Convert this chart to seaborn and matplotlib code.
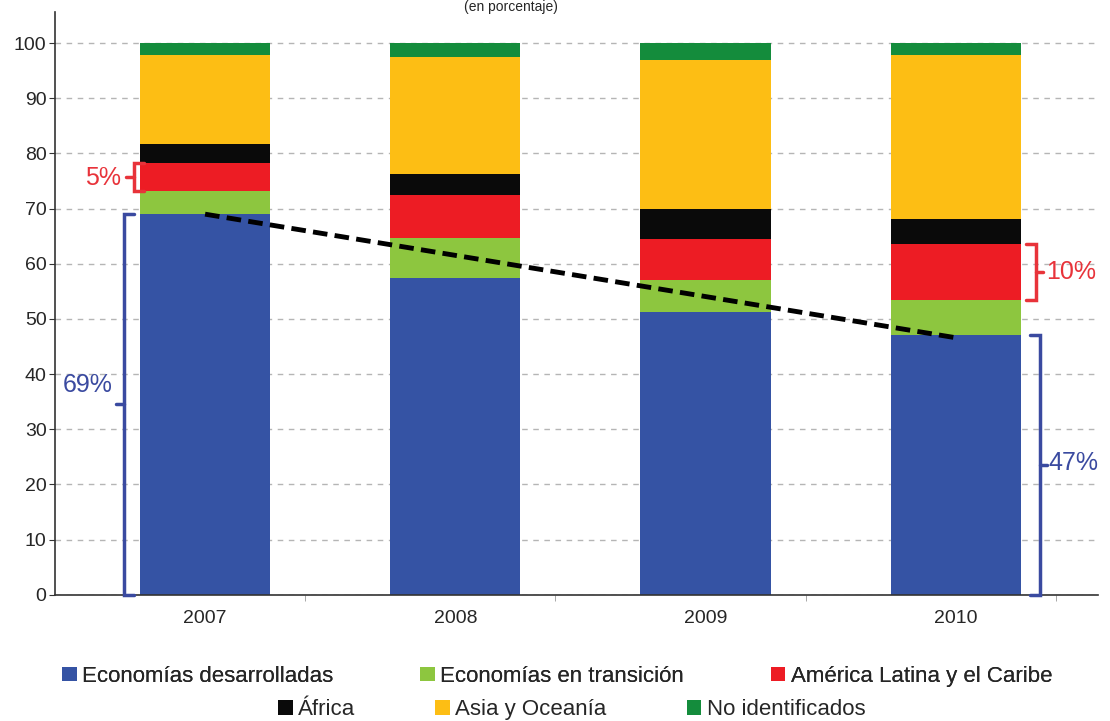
import numpy as np
import pandas as pd
import seaborn as sns
import matplotlib.pyplot as plt
from matplotlib.patches import Patch

# data (percent of total)
years = ['2007', '2008', '2009', '2010']
desarrolladas = [69.0, 57.4, 51.3, 47.1]
transicion = [4.2, 7.3, 5.8, 6.3]
america_latina = [5.1, 7.8, 7.4, 10.2]
africa = [3.4, 3.8, 5.4, 4.5]
asia_oceania = [16.1, 21.2, 27.0, 29.7]
no_identificados = [2.2, 2.5, 3.1, 2.2]

labels = ['Economías desarrolladas', 'Economías en transición', 'América Latina y el Caribe',
          'África', 'Asia y Oceanía', 'No identificados']
colors = ['#3553A4', '#8DC63F', '#ED1C24', '#0A0A0A', '#FDBE14', '#148C3C']

sns.set_style('white')
plt.rcParams['font.family'] = ['Liberation Sans', 'DejaVu Sans']

series = [desarrolladas, transicion, america_latina, africa, asia_oceania, no_identificados]
cum = np.cumsum(np.array(series), axis=0)

fig = plt.figure(figsize=(11.1, 7.21), dpi=100)
ax = fig.add_axes([0.0495, 0.175, 0.94, 0.808])

# stacked bars: draw cumulative totals from top layer down
for i in range(len(series) - 1, -1, -1):
    df = pd.DataFrame({'year': years, 'value': cum[i]})
    sns.barplot(data=df, x='year', y='value', color=colors[i], width=0.52,
                saturation=1, linewidth=0, ax=ax, zorder=2)

# trend line for developed economies
ax.plot([0, 3], [desarrolladas[0], desarrolladas[3] - 0.5], color='black', lw=3.5,
        ls=(0, (3, 1.5)), zorder=4)

ax.set_ylim(0, 105.6)
ax.set_xlim(-0.6, 3.57)
ax.set_yticks(range(0, 101, 10))
ax.set_xticks([0.4, 1.4, 2.4, 3.4], minor=True)
ax.yaxis.grid(True, ls=(0, (4, 4)), color='#b5b5b5', lw=1)
ax.set_axisbelow(True)
ax.set_xlabel('')
ax.set_ylabel('')
for s in ['top', 'right']:
    ax.spines[s].set_visible(False)
ax.spines['left'].set_color('#333333')
ax.spines['bottom'].set_color('#333333')
ax.spines['left'].set_linewidth(1.2)
ax.spines['bottom'].set_linewidth(1.2)
ax.tick_params(axis='y', length=4, labelsize=14, color='#333333', pad=2, left=True)
ax.tick_params(axis='x', which='major', length=0, labelsize=14, pad=11)
ax.tick_params(axis='x', which='minor', length=4, color='#999999', bottom=True)

blue = '#3a4aa0'
red = '#e8333a'


def bracket(x, y0, y1, side, color, lw=2.5):
    # side = +1 serifs point right, -1 serifs point left
    s = 0.04 * side
    ax.plot([x + s, x, x, x + s], [y0, y0, y1, y1], color=color, lw=lw,
            solid_joinstyle='miter', zorder=5, clip_on=False)
    ym = (y0 + y1) / 2
    ax.plot([x, x - 0.03 * side], [ym, ym], color=color, lw=lw, zorder=5, clip_on=False)


bracket(-0.325, 0, desarrolladas[0], 1, blue)
ax.text(-0.37, 38, '69%', color=blue, fontsize=18, ha='right', va='center')

bracket(-0.285, cum[1][0], cum[2][0], 1, red)
ax.text(-0.335, 75.5, '5%', color=red, fontsize=18, ha='right', va='center')

bracket(3.335, 0, desarrolladas[3], -1, blue)
ax.text(3.37, 23.9, '47%', color=blue, fontsize=18, ha='left', va='center')

bracket(3.32, cum[1][3], cum[2][3], -1, red)
ax.text(3.36, 58.5, '10%', color=red, fontsize=18, ha='left', va='center')

# title, only its lower part shows in the original
fig.text(0.46, 1.0, '(en porcentaje)', ha='center', va='top', fontsize=10)

handles = [Patch(facecolor=c, edgecolor='none') for c in colors]
leg_kw = dict(loc='center', ncol=3, frameon=False, fontsize=16, handlelength=0.65,
              handleheight=0.65, handletextpad=0.25)
leg1 = fig.legend(handles[:3], labels[:3], bbox_to_anchor=(0.502, 0.062),
                  columnspacing=3.9, **leg_kw)
fig.legend(handles[3:], labels[3:], bbox_to_anchor=(0.515, 0.016),
           columnspacing=3.6, **leg_kw)
fig.add_artist(leg1)

fig.savefig('out.png', dpi=100)
